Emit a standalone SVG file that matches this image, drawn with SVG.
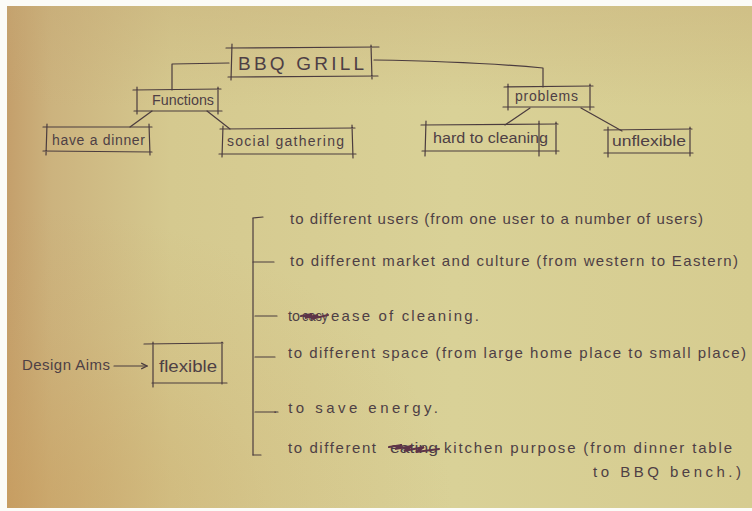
<svg xmlns="http://www.w3.org/2000/svg" width="752" height="511" viewBox="0 0 752 511">
  <defs>
    <linearGradient id="paperH" x1="0" y1="0" x2="1" y2="0">
      <stop offset="0" stop-color="#c49f6b"/>
      <stop offset="0.06" stop-color="#ccb37e"/>
      <stop offset="0.22" stop-color="#d5c98f"/>
      <stop offset="0.6" stop-color="#d9d197"/>
      <stop offset="1" stop-color="#d6cc90"/>
    </linearGradient>
    <radialGradient id="warmCorner" cx="0" cy="1" r="0.6">
      <stop offset="0" stop-color="#c99c5a" stop-opacity="0.55"/>
      <stop offset="0.6" stop-color="#c9a060" stop-opacity="0.15"/>
      <stop offset="1" stop-color="#c9a060" stop-opacity="0"/>
    </radialGradient>
    <linearGradient id="topShade" x1="0" y1="0" x2="0" y2="1">
      <stop offset="0" stop-color="#c4a874" stop-opacity="0.35"/>
      <stop offset="0.2" stop-color="#c4a874" stop-opacity="0"/>
    </linearGradient>
    <marker id="tip" viewBox="0 0 10 10" refX="9" refY="5" markerWidth="6" markerHeight="6" orient="auto">
      <path d="M1,1 L9,5 L1,9" fill="none" stroke="#4b3c3f" stroke-width="1.6"/>
    </marker>
    <style>
      .ink { fill: none; stroke: #4b3c3f; stroke-width: 1.2; stroke-linecap: round; stroke-linejoin: round; }
      .strike { fill: none; stroke: #5e3448; stroke-width: 2.2; stroke-linecap: round; }
      text { font-family: "Liberation Sans", "DejaVu Sans", sans-serif; fill: #4e3f45; }
      .lbl { font-size: 15px; }
      .box { font-size: 14px; }
    </style>
  </defs>

  <!-- sheet of paper -->
  <rect width="752" height="511" fill="#fbfbf7"/>
  <rect x="7" y="6" width="745" height="502" fill="url(#paperH)"/>
  <rect x="7" y="6" width="745" height="502" fill="url(#warmCorner)"/>
  <rect x="7" y="6" width="745" height="502" fill="url(#topShade)"/>

  <!-- tree connectors and the aims arrow -->
  <g id="connectors">
    <path class="ink" d="M229,63 L172,64 L172,90"/>
    <path class="ink" d="M374,60 C440,61 500,64 543,68 L543,87"/>
    <path class="ink" d="M152,111 L130,127"/>
    <path class="ink" d="M207,111 L230,129"/>
    <path class="ink" d="M530,108 L505,125"/>
    <path class="ink" d="M581,108 L622,131"/>
    <path class="ink" d="M114,366 L147,366" marker-end="url(#tip)"/>
  </g>

  <g id="bbq-grill">
    <path class="ink" d="M226,48 L379,47 M232,44 L231,80 M228,77 L378,76 M371,45 L372,79"/>
    <text x="238" y="70" font-size="19" textLength="126" lengthAdjust="spacing">BBQ GRILL</text>
  </g>

  <g id="functions">
    <path class="ink" d="M133,90 L221,89 M137,87 L137,114 M134,111 L222,111 M218,87 L218,114"/>
    <text class="box" x="152" y="105" textLength="62" lengthAdjust="spacingAndGlyphs">Functions</text>
  </g>

  <g id="have-a-dinner">
    <path class="ink" d="M43,127 L152,127 M47,124 L46,155 M43,151 L152,152 M149,124 L150,155"/>
    <text class="box" x="52" y="145" textLength="93" lengthAdjust="spacing">have a dinner</text>
  </g>

  <g id="social-gathering">
    <path class="ink" d="M220,129 L355,128 M223,126 L222,157 M219,154 L356,154 M352,125 L353,158"/>
    <text class="box" x="227" y="146" textLength="117" lengthAdjust="spacing">social gathering</text>
  </g>

  <g id="problems">
    <path class="ink" d="M504,87 L593,86 M508,84 L508,110 M503,107 L594,107 M590,84 L590,110"/>
    <text class="box" x="515" y="101" textLength="63" lengthAdjust="spacing">problems</text>
  </g>

  <g id="hard-to-cleaning">
    <path class="ink" d="M421,125 L558,124 M426,121 L425,156 M422,151 L559,151 M556,122 L556,154 M539,121 L539,156"/>
    <text class="box" x="433" y="143" textLength="115" lengthAdjust="spacingAndGlyphs">hard to cleaning</text>
  </g>

  <g id="unflexible">
    <path class="ink" d="M604,130 L692,129 M608,127 L608,157 M604,153 L693,153 M690,127 L690,156"/>
    <text class="box" x="612" y="146" textLength="74" lengthAdjust="spacingAndGlyphs">unflexible</text>
  </g>

  <g id="design-aims">
    <text class="lbl" x="22" y="370" textLength="88" lengthAdjust="spacing">Design Aims</text>
  </g>

  <g id="flexible">
    <path class="ink" d="M144,344 L223,343 M153,342 L153,387 M152,383 L227,383 M222,342 L222,384"/>
    <text x="159" y="372" font-size="17" textLength="58" lengthAdjust="spacingAndGlyphs">flexible</text>
  </g>

  <!-- bracket listing the aims -->
  <g id="aims-bracket">
    <path class="ink" d="M253,218 L253,455"/>
    <path class="ink" d="M253,218 L263,217 M253,262 L274,262 M255,316 L277,316 M255,357 L275,357 M255,412 L278,412 M253,455 L261,455"/>
  </g>

  <g id="aim-users">
    <text class="lbl" x="290" y="224" textLength="413" lengthAdjust="spacing">to different users (from one user to a number of users)</text>
  </g>

  <g id="aim-market">
    <text class="lbl" x="290" y="266" textLength="448" lengthAdjust="spacing">to different market and culture (from western to Eastern)</text>
  </g>

  <g id="aim-cleaning">
    <text class="lbl" x="288" y="321" textLength="12" lengthAdjust="spacingAndGlyphs">to</text>
    <text class="lbl" x="302" y="321" textLength="26" lengthAdjust="spacingAndGlyphs">easy</text>
    <path class="strike" d="M301,316 L312,314 L305,318 L318,315 L311,319 L328,315"/>
    <text class="lbl" x="331" y="321" textLength="148" lengthAdjust="spacing">ease of cleaning.</text>
  </g>

  <g id="aim-space">
    <text class="lbl" x="288" y="358" textLength="458" lengthAdjust="spacing">to different space (from large home place to small place)</text>
  </g>

  <g id="aim-energy">
    <text class="lbl" x="273" y="413" textLength="165" lengthAdjust="spacing">. to save energy.</text>
  </g>

  <g id="aim-kitchen">
    <text class="lbl" x="288" y="453" textLength="88" lengthAdjust="spacing">to different</text>
    <text class="lbl" x="390" y="453" textLength="48" lengthAdjust="spacingAndGlyphs">eating</text>
    <path class="strike" d="M389,447 L402,445 L395,449 L412,446 L404,451 L424,447 L416,452 L439,449"/>
    <text class="lbl" x="444" y="453" textLength="288" lengthAdjust="spacing">kitchen purpose (from dinner table</text>
    <text class="lbl" x="593" y="477" textLength="148" lengthAdjust="spacing">to BBQ bench.)</text>
  </g>
</svg>
